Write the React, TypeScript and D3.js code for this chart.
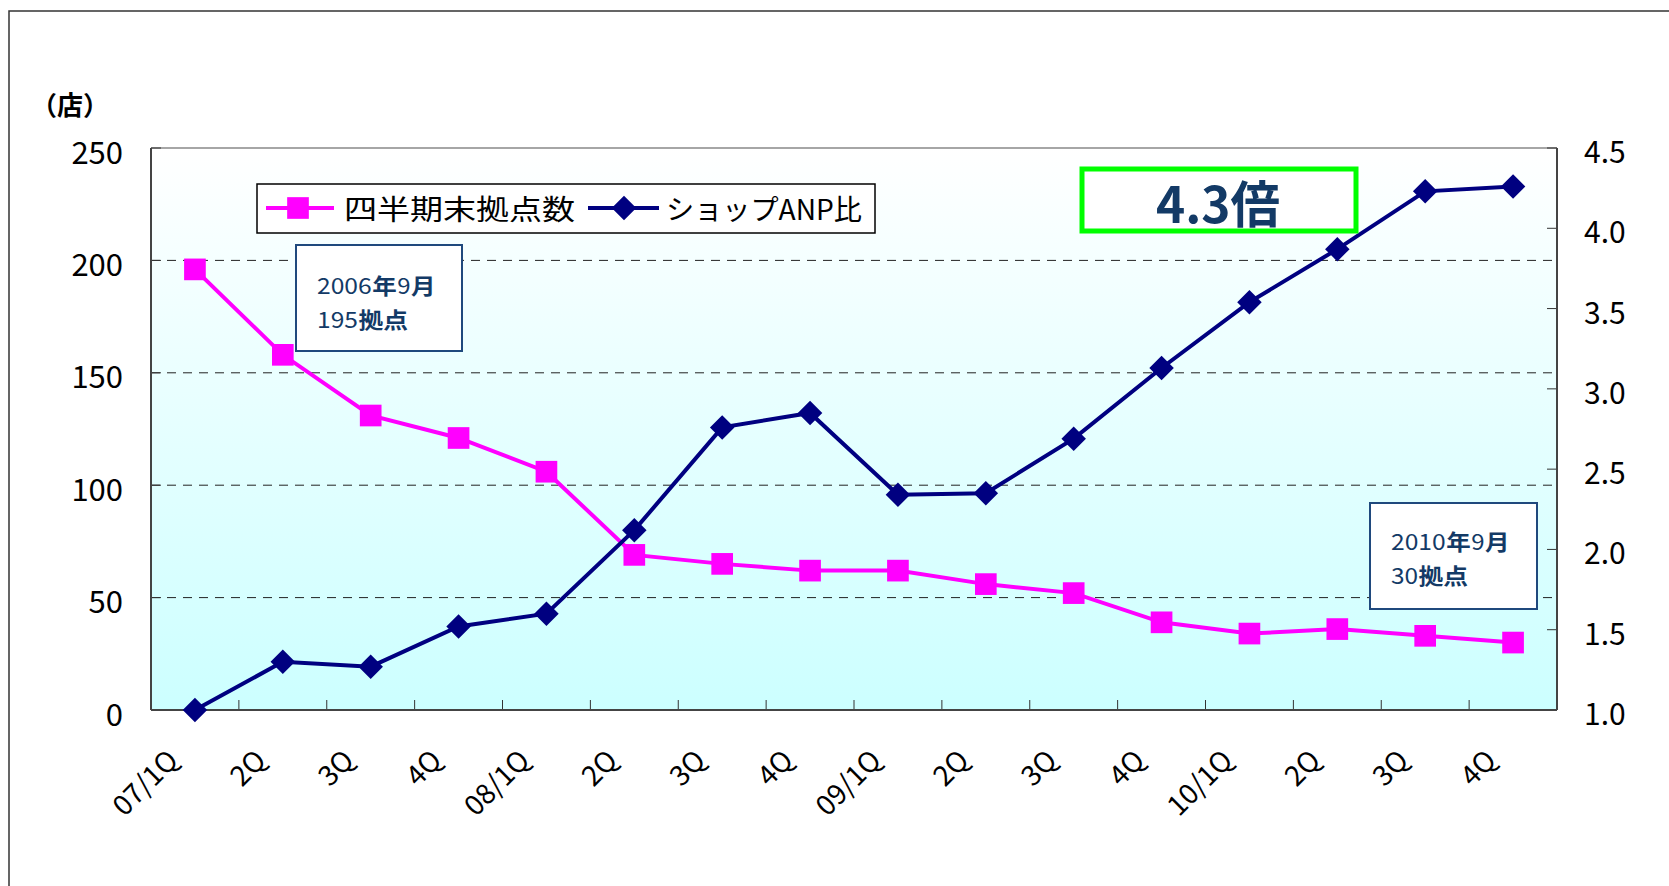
import React from "react";
import * as d3 from "d3";

const categories = ["07/1Q", "2Q", "3Q", "4Q", "08/1Q", "2Q", "3Q", "4Q", "09/1Q", "2Q", "3Q", "4Q", "10/1Q", "2Q", "3Q", "4Q"];
const storeCounts = [196, 158, 131, 121, 106, 69, 65, 62, 62, 56, 52, 39, 34, 36, 33, 30];
const anpRatio = [1.0, 1.3, 1.27, 1.52, 1.6, 2.12, 2.76, 2.85, 2.34, 2.35, 2.69, 3.13, 3.54, 3.87, 4.23, 4.26];
const leftTicks = [0, 50, 100, 150, 200, 250];
const rightTicks = [1.0, 1.5, 2.0, 2.5, 3.0, 3.5, 4.0, 4.5];
const gridValues = [50, 100, 150, 200];

const W = 1669;
const H = 886;
const PLOT = { left: 151, right: 1557, top: 148, bottom: 710 };
const FONT = "'Noto Sans CJK JP', 'Noto Sans', sans-serif";
const PINK = "#ff00ff";
const NAVY = "#000080";
const NOTE = "#133a66";

// one annotation line: digits regular, kanji bold, laid out piece by piece
function NoteLine({ x, y, parts }: { x: number; y: number; parts: [string, boolean][] }) {
  let cur = x;
  return (
    <g>
      {parts.map(([s, bold], i) => {
        const w = bold ? s.length * 25 : s.length * 13.8;
        const el = (
          <text
            key={i}
            x={cur}
            y={y}
            dominantBaseline="central"
            fontSize={22}
            fontWeight={bold ? "bold" : "normal"}
            fill={NOTE}
            textLength={w - 0.5}
            lengthAdjust="spacingAndGlyphs"
          >
            {s}
          </text>
        );
        cur += w;
        return el;
      })}
    </g>
  );
}

export default function App() {
  const x = d3.scaleBand<number>().domain(d3.range(categories.length)).range([PLOT.left, PLOT.right]);
  const yL = d3.scaleLinear().domain([0, 250]).range([PLOT.bottom, PLOT.top]);
  const yR = d3.scaleLinear().domain([1, 4.5]).range([PLOT.bottom, PLOT.top]);
  const cx = (i: number) => (x(i) ?? 0) + x.bandwidth() / 2;

  const pinkLine = d3.line<number>().x((_, i) => cx(i)).y((d) => yL(d))(storeCounts) ?? "";
  const navyLine = d3.line<number>().x((_, i) => cx(i)).y((d) => yR(d))(anpRatio) ?? "";
  const square = d3.symbol().type(d3.symbolSquare).size(470)() ?? "";
  const diamond = d3.symbol().type(d3.symbolSquare).size(300)() ?? ""; // rotated 45deg below

  const boundaries = d3.range(1, categories.length).map((i) => x(i) ?? 0);

  return (
    <svg width={W} height={H} style={{ position: "absolute", left: 0, top: 0, fontFamily: FONT }}>
      <defs>
        <linearGradient id="bg" x1="0" y1="0" x2="0" y2="1">
          <stop offset="0" stopColor="#ffffff" />
          <stop offset="1" stopColor="#ccffff" />
        </linearGradient>
      </defs>
      <rect x={0} y={0} width={W} height={H} fill="#fff" />
      {/* outer frame */}
      <rect x={9} y={11} width={W + 20} height={H + 20} fill="none" stroke="#333" strokeWidth={1.5} />

      {/* plot area */}
      <rect x={PLOT.left} y={PLOT.top} width={PLOT.right - PLOT.left} height={PLOT.bottom - PLOT.top} fill="url(#bg)" />
      <line x1={PLOT.left} x2={PLOT.right} y1={PLOT.top} y2={PLOT.top} stroke="#888" strokeWidth={1.5} />
      {gridValues.map((v) => (
        <line key={v} x1={PLOT.left} x2={PLOT.right} y1={yL(v)} y2={yL(v)} stroke="#222" strokeWidth={1} strokeDasharray="9,7" />
      ))}

      {/* x ticks (inside) */}
      {boundaries.map((bx, i) => (
        <line key={i} x1={bx} x2={bx} y1={PLOT.bottom} y2={PLOT.bottom - 10} stroke="#333" strokeWidth={1} />
      ))}
      {/* left ticks */}
      {leftTicks.map((t) => (
        <g key={t}>
          <line x1={PLOT.left} x2={PLOT.left + 10} y1={yL(t)} y2={yL(t)} stroke="#333" strokeWidth={1} />
          <text x={123} y={yL(t) + 2} textAnchor="end" dominantBaseline="central" fontSize={31}>
            {t}
          </text>
        </g>
      ))}
      {/* right ticks */}
      {rightTicks.map((t) => (
        <g key={t}>
          <line x1={PLOT.right - 10} x2={PLOT.right} y1={yR(t)} y2={yR(t)} stroke="#333" strokeWidth={1} />
          <text x={1584} y={yR(t) + 2} textAnchor="start" dominantBaseline="central" fontSize={30}>
            {t.toFixed(1)}
          </text>
        </g>
      ))}
      <line x1={PLOT.left} x2={PLOT.left} y1={PLOT.top} y2={PLOT.bottom} stroke="#444" strokeWidth={2} />
      <line x1={PLOT.right} x2={PLOT.right} y1={PLOT.top} y2={PLOT.bottom} stroke="#444" strokeWidth={2} />
      <line x1={PLOT.left} x2={PLOT.right} y1={PLOT.bottom} y2={PLOT.bottom} stroke="#444" strokeWidth={2} />

      <text x={31} y={103} dominantBaseline="central" fontSize={26} fontWeight="bold">
        （店）
      </text>

      {/* category labels */}
      {categories.map((c, i) => (
        <text key={i} transform={`translate(${cx(i) - 15},${762}) rotate(-45)`} textAnchor="end" fontSize={28}>
          {c}
        </text>
      ))}

      {/* series */}
      <path d={pinkLine} fill="none" stroke={PINK} strokeWidth={4} />
      {storeCounts.map((d, i) => (
        <path key={i} d={square} transform={`translate(${cx(i)},${yL(d)})`} fill={PINK} />
      ))}
      <path d={navyLine} fill="none" stroke={NAVY} strokeWidth={4} />
      {anpRatio.map((d, i) => (
        <path key={i} d={diamond} transform={`translate(${cx(i)},${yR(d)}) rotate(45)`} fill={NAVY} />
      ))}

      {/* legend */}
      <rect x={257} y={184} width={618} height={49} fill="#fff" stroke="#000" strokeWidth={1.5} />
      <line x1={266} x2={334} y1={208} y2={208} stroke={PINK} strokeWidth={4} />
      <path d={square} transform="translate(298,208)" fill={PINK} />
      <text x={344} y={208} dominantBaseline="central" fontSize={28} textLength={231} lengthAdjust="spacingAndGlyphs">
        四半期末拠点数
      </text>
      <line x1={588} x2={659} y1={208} y2={208} stroke={NAVY} strokeWidth={4} />
      <path d={diamond} transform="translate(624,208) rotate(45)" fill={NAVY} />
      <text x={666} y={208} dominantBaseline="central" fontSize={28} textLength={196} lengthAdjust="spacingAndGlyphs">
        ショップANP比
      </text>

      {/* annotations */}
      <rect x={296} y={245} width={166} height={106} fill="#fff" stroke="#1f497d" strokeWidth={2} />
      <NoteLine x={317} y={284} parts={[["2006", false], ["年", true], ["9", false], ["月", true]]} />
      <NoteLine x={317} y={318} parts={[["195", false], ["拠点", true]]} />
      <rect x={1370} y={503} width={167} height={106} fill="#fff" stroke="#1f497d" strokeWidth={2} />
      <NoteLine x={1391} y={540} parts={[["2010", false], ["年", true], ["9", false], ["月", true]]} />
      <NoteLine x={1391} y={574} parts={[["30", false], ["拠点", true]]} />

      <rect x={1082} y={169} width={274} height={62} fill="#fff" stroke="#00ff00" strokeWidth={5} />
      <text x={1156} y={201} dominantBaseline="central" fontSize={50} fontWeight="bold" fill={NOTE} textLength={124} lengthAdjust="spacingAndGlyphs">
        4.3倍
      </text>
    </svg>
  );
}
